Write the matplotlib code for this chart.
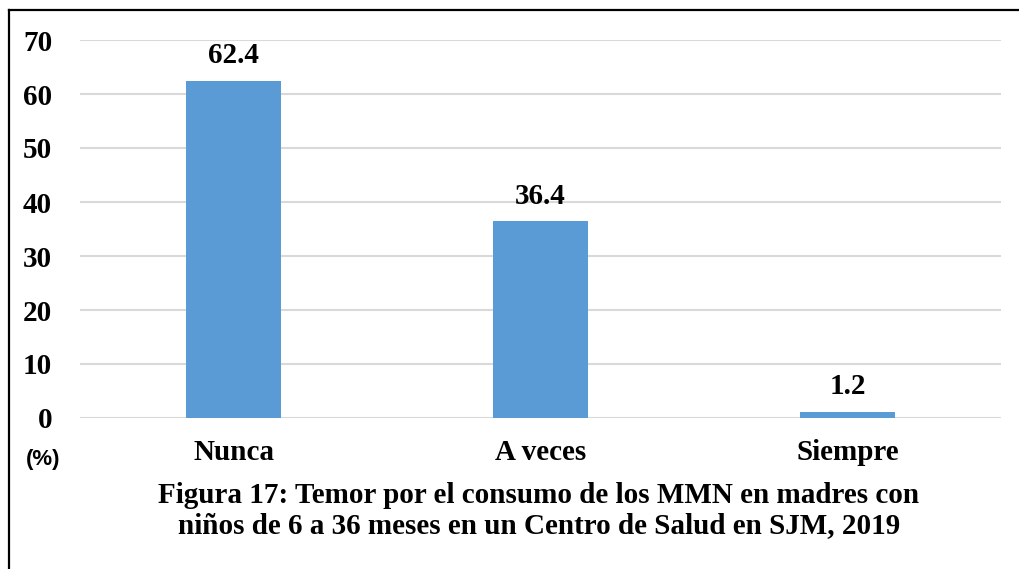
import matplotlib
matplotlib.use("Agg")
import matplotlib.pyplot as plt
from matplotlib.lines import Line2D

categories = ["Nunca", "A veces", "Siempre"]
values = [62.4, 36.4, 1.2]
yticks = [0, 10, 20, 30, 40, 50, 60, 70]
title_lines = ["Figura 17: Temor por el consumo de los MMN en madres con",
               "niños de 6 a 36 meses en un Centro de Salud en SJM, 2019"]

W, H = 1019, 569
SERIF = "Liberation Serif"
BAR = "#5B9BD5"
FS = 21

fig = plt.figure(figsize=(W / 100, H / 100), dpi=100)
ax = fig.add_axes([80 / W, 1 - 418 / H, (1001 - 80) / W, (418 - 40) / H])

x = range(len(categories))
ax.bar(x, values, width=0.31, color=BAR, zorder=3)
for xi, v in zip(x, values):
    ax.text(xi, v + 3.3, f"{v:.1f}", ha="center", va="baseline",
            fontsize=FS, fontweight="bold", family=SERIF)

ax.set_xlim(-0.5, 2.5)
ax.set_ylim(0, 70)
ax.set_yticks(yticks)
ax.set_yticklabels([str(t) for t in yticks], fontsize=FS,
                   fontweight="bold", family=SERIF)
ax.tick_params(axis="y", length=0, pad=20)
ax.set_xticks([])
ax.grid(axis="y", color="#D9D9D9", linewidth=1.5, zorder=0)
for s in ax.spines.values():
    s.set_visible(False)

# category labels below the axis
for xi, c in zip(x, categories):
    px = 80 + (xi + 0.5) * (1001 - 80) / 3
    fig.text(px / W, 1 - 460 / H, c, ha="center", va="baseline",
             fontsize=FS, fontweight="bold", family=SERIF)

fig.text(43.5 / W, 1 - 460 / H, "(%)", ha="center", va="center",
         fontsize=16, fontweight="bold", family="Liberation Sans")
for line, base in zip(title_lines, [503, 533]):
    fig.text(539 / W, 1 - base / H, line, ha="center", va="baseline",
             fontsize=FS, fontweight="bold", family=SERIF)

# frame (left and top edges visible)
fig.add_artist(Line2D([8.5 / W, 8.5 / W], [0, 1 - 10 / H], color="black", lw=1.6))
fig.add_artist(Line2D([8.5 / W, 1], [1 - 10 / H, 1 - 10 / H], color="black", lw=1.6))

fig.savefig("out.png", dpi=100)
